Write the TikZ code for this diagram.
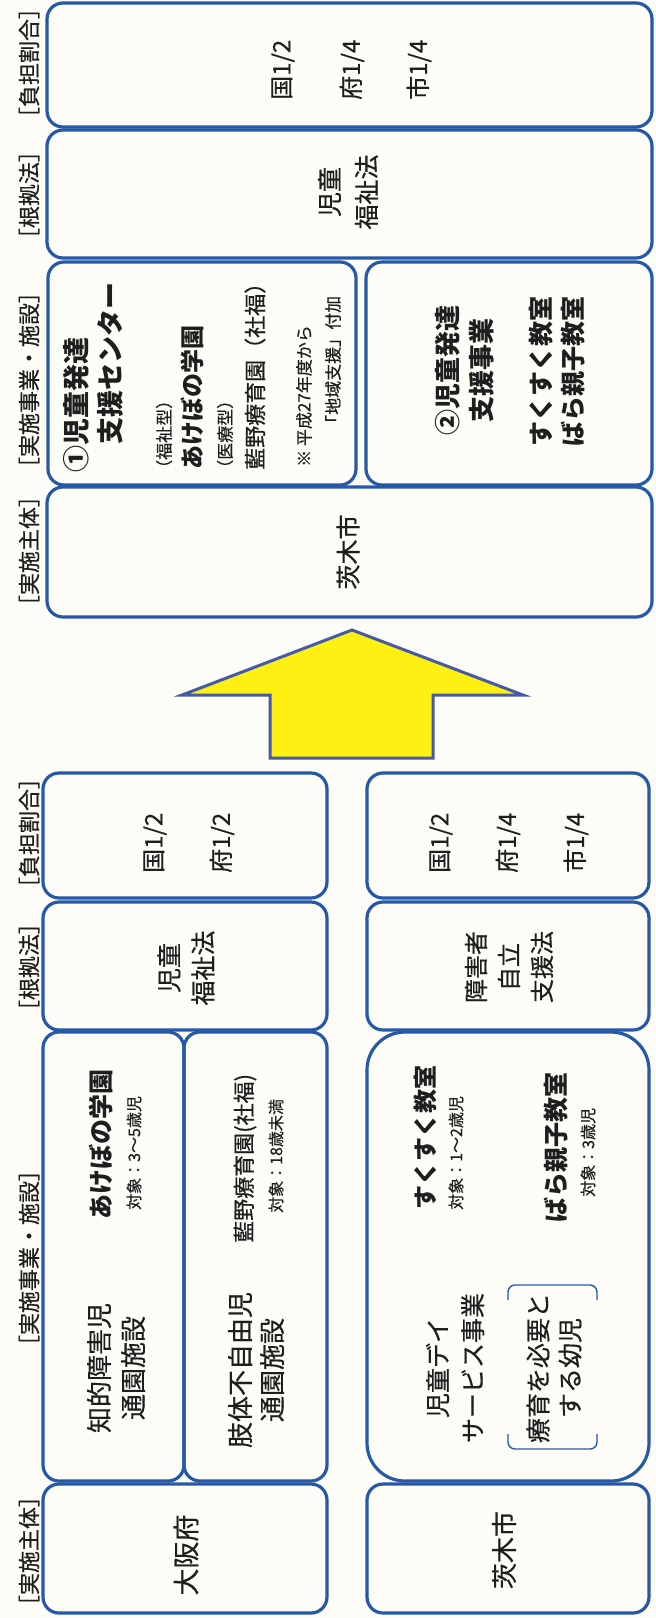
\documentclass[tikz,border=0pt]{standalone}
\usepackage{fontspec}
\setmainfont{Noto Sans CJK JP}
\newfontfamily\med{Noto Sans CJK JP}[FakeBold=0.45]
\definecolor{bl}{RGB}{38,88,168}
\definecolor{bg}{RGB}{253,252,246}
\definecolor{yel}{RGB}{255,240,20}
\definecolor{arredge}{RGB}{70,90,165}
\definecolor{ink}{RGB}{30,30,30}
\begin{document}
\begin{tikzpicture}[x=1pt,y=-1pt,
  box/.style={draw=bl,line width=3.2pt,rounded corners=16pt},
  bigbox/.style={draw=bl,line width=3.2pt,rounded corners=38pt},
  fs/.style 2 args={font=\fontsize{#1}{#2}\selectfont\med},
  fsb/.style 2 args={font=\fontsize{#1}{#2}\selectfont\bfseries},
  t/.style={rotate=90,inner sep=0pt,text=ink},
  tl/.style={t,anchor=west},
  lab/.style={t,fs={22}{24}},
  brk/.style={draw=bl,line width=1.4pt,rounded corners=7pt},
  arr/.style={fill=yel,draw=arredge,line width=3pt,line join=miter}
 ]
\fill[bg] (0,0) rectangle (656,1618);
\useasboundingbox (0,0) rectangle (656,1618);

% ---------- column labels (top section) ----------
\node[lab] (lt1) at (29,63) {［負担割合］};
\node[lab] (lt2) at (29,195) {［根拠法］};
\node[lab] (lt3) at (29,380) {［実施事業・施設］};
\node[lab] (lt4) at (29,551) {［実施主体］};
% ---------- column labels (bottom section) ----------
\node[lab] (lb1) at (29,833) {［負担割合］};
\node[lab] (lb2) at (29,967) {［根拠法］};
\node[lab] (lb3) at (29,1258) {［実施事業・施設］};
\node[lab] (lb4) at (29,1551) {［実施主体］};

% ---------- top section boxes ----------
\draw[box] (47,3) rectangle (652,127);
\draw[box] (47,130) rectangle (652,258);
\draw[box] (48,262) rectangle (356,485);
\draw[box] (366,262) rectangle (652,485);
\draw[box] (47,487) rectangle (652,617);

\node[tl,fs={24}{24}] (ta1) at (283,100) {国1/2};
\node[tl,fs={24}{24}] (ta2) at (352,100) {府1/4};
\node[tl,fs={24}{24}] (ta3) at (419,100) {市1/4};

\node[t,fs={25}{37},align=center] (tb) at (348,192) {児童\\福祉法};

\node[tl,fsb={27}{27}] (tc1) at (76,473) {①児童発達};
\node[tl,fsb={27}{27}] (tc2) at (110,445) {支援センター};
\node[tl,fs={17}{17}] (tc3) at (164,477) {（福祉型）};
\node[tl,fsb={24}{24}] (tc4) at (192,470) {あけぼの学園};
\node[tl,fs={17}{17}] (tc5) at (225,477) {（医療型）};
\node[tl,fs={22}{22}] (tc6) at (255,470) {藍野療育園（社福）};
\node[tl,fs={17}{17}] (tc7) at (304,467) {※ 平成27年度から};
\node[tl,fs={17}{17}] (tc8) at (333,432) {「地域支援」付加};

\node[t,fsb={26}{34},align=center] (td1) at (465,370) {②児童発達\\支援事業};
\node[t,fsb={25}{32},align=center] (td2) at (557,371) {すくすく教室\\ばら親子教室};

\node[t,fs={25}{25}] (te) at (348,552) {茨木市};

% ---------- arrow ----------
\draw[arr] (352,630) -- (523,695) -- (433,695) -- (433,758) -- (270,758) -- (270,695) -- (182,695) -- cycle;

% ---------- bottom section boxes ----------
\draw[box] (43,773) rectangle (327,898);
\draw[box] (43,902) rectangle (327,1030);
\draw[box] (43,1032) rectangle (184,1481);
\draw[box] (184,1032) rectangle (327,1481);
\draw[box] (43,1484) rectangle (327,1613);
\draw[box] (367,773) rectangle (649,898);
\draw[box] (367,902) rectangle (649,1030);
\draw[bigbox] (367,1032) rectangle (649,1481);
\draw[box] (367,1484) rectangle (649,1613);

\node[tl,fs={24}{24}] (la1) at (155,873) {国1/2};
\node[tl,fs={24}{24}] (la2) at (222,873) {府1/2};
\node[t,fs={25}{34},align=center] (lb) at (186,968) {児童\\福祉法};

\node[tl,fsb={25}{25}] (lc1) at (101,1220) {あけぼの学園};
\node[tl,fs={16}{16}] (lc2) at (134,1210) {対象：3～5歳児};
\node[tl,fs={22}{22}] (lc3) at (245,1243) {藍野療育園(社福)};
\node[tl,fs={16}{16}] (lc4) at (276,1213) {対象：18歳未満};
\node[t,fs={26}{34},align=center] (lc5) at (116,1368) {知的障害児\\通園施設};
\node[t,fs={26}{32},align=center] (lc6) at (256,1370) {肢体不自由児\\通園施設};
\node[t,fs={27}{27}] (ld) at (186,1555) {大阪府};

\node[tl,fs={24}{24}] (ra1) at (441,873) {国1/2};
\node[tl,fs={24}{24}] (ra2) at (508,873) {府1/4};
\node[tl,fs={24}{24}] (ra3) at (576,873) {市1/4};
\node[t,fs={24}{33},align=center] (rb) at (509,967) {障害者\\自立\\支援法};

\node[tl,fsb={24}{24}] (rc1) at (425,1210) {すくすく教室};
\node[tl,fs={16}{16}] (rc2) at (456,1210) {対象：1～2歳児};
\node[tl,fsb={25}{25}] (rc3) at (556,1223) {ばら親子教室};
\node[tl,fs={16}{16}] (rc4) at (588,1197) {対象：3歳児};
\node[t,fs={25}{35},align=center] (rc5) at (455,1368) {児童デイ\\サービス事業};
\node[t,fs={25}{32},align=center] (rc6) at (554,1368) {療育を必要と\\する幼児};
\draw[brk] (508,1300) -- (508,1285) -- (597,1285) -- (597,1300);
\draw[brk] (508,1434) -- (508,1449) -- (597,1449) -- (597,1434);
\node[t,fs={26}{26}] (rd) at (504,1550) {茨木市};
\end{tikzpicture}
\end{document}
